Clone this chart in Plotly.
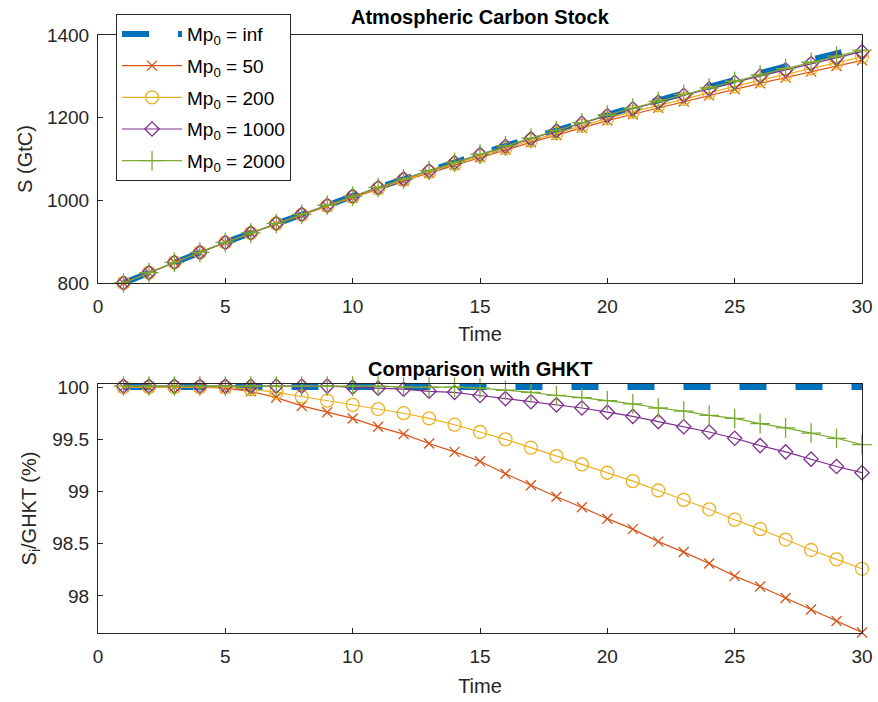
import plotly.graph_objects as go

# ---------------- data ----------------
time = list(range(1, 31))

# GHKT reference stock (Mp0 = inf), GtC
s_inf = [800, 825, 850, 874, 898, 921, 944, 966, 988, 1010,
         1031, 1052, 1072, 1092, 1112, 1132, 1151, 1170, 1189, 1208,
         1225, 1242, 1259, 1275.5, 1292, 1308, 1324, 1340, 1355.5, 1371]

# ratio S_i / GHKT (%)
r_inf = [100.0] * 30
r_50 = [100.0, 100.0, 100.0, 100.0, 99.99, 99.96, 99.90, 99.82, 99.76, 99.70,
        99.62, 99.55, 99.46, 99.38, 99.29, 99.17, 99.06, 98.95, 98.85, 98.74,
        98.64, 98.52, 98.42, 98.31, 98.19, 98.09, 97.98, 97.87, 97.76, 97.65]
r_200 = [100.0, 100.0, 100.0, 100.0, 100.0, 99.98, 99.95, 99.91, 99.87, 99.83,
         99.79, 99.75, 99.70, 99.64, 99.57, 99.50, 99.42, 99.34, 99.26, 99.18,
         99.10, 99.01, 98.92, 98.83, 98.73, 98.64, 98.54, 98.44, 98.35, 98.26]
r_1000 = [100.01, 100.01, 100.01, 100.01, 100.01, 100.01, 100.01, 100.01, 100.01, 100.0,
          99.99, 99.98, 99.96, 99.95, 99.92, 99.89, 99.86, 99.83, 99.80, 99.76,
          99.72, 99.67, 99.62, 99.57, 99.51, 99.44, 99.38, 99.31, 99.24, 99.18]
r_2000 = [100.01, 100.01, 100.01, 100.01, 100.01, 100.01, 100.01, 100.01, 100.01, 100.01,
          100.01, 100.0, 100.0, 100.0, 99.99, 99.97, 99.95, 99.92, 99.90, 99.87,
          99.84, 99.80, 99.77, 99.73, 99.70, 99.65, 99.61, 99.56, 99.51, 99.45]

labels = ["Mp<sub>0</sub> = inf", "Mp<sub>0</sub> = 50", "Mp<sub>0</sub> = 200",
          "Mp<sub>0</sub> = 1000", "Mp<sub>0</sub> = 2000"]
ratios = [r_inf, r_50, r_200, r_1000, r_2000]

x_ticks = [0, 5, 10, 15, 20, 25, 30]
y1_ticks = [800, 1000, 1200, 1400]
y2_ticks = [98, 98.5, 99, 99.5, 100]
y2_ticktext = ["98", "98.5", "99", "99.5", "100"]

# ---------------- style ----------------
colors = ["#0072BD", "#D95319", "#EDB120", "#7E2F8E", "#77AC30"]
symbols = [None, "x-thin-open", "circle-open", "diamond-open", "cross-thin-open"]
msizes = [0, 10, 13, 11, 14]
FONT = "Liberation Sans, Arial, sans-serif"
AX = "#262626"

fig = go.Figure()

for i, (lab, r) in enumerate(zip(labels, ratios)):
    s_vals = [s * v / 100.0 for s, v in zip(s_inf, r)]
    if i == 0:
        line = dict(color=colors[0], width=6, dash="27px,29px")
        mode = "lines"
        marker = None
    else:
        line = dict(color=colors[i], width=1.2)
        mode = "lines+markers"
        marker = dict(symbol=symbols[i], size=msizes[i],
                      line=dict(color=colors[i], width=1.3), color=colors[i])
    fig.add_trace(go.Scatter(x=time, y=s_vals, mode=mode, name=lab, line=line,
                             marker=marker, xaxis="x", yaxis="y",
                             legendgroup=f"g{i}",
                             cliponaxis=False, showlegend=True))
    fig.add_trace(go.Scatter(x=time, y=r, mode=mode, name=lab, line=line,
                             marker=marker, xaxis="x2", yaxis="y2",
                             legendgroup=f"g{i}",
                             cliponaxis=False, showlegend=False))

axis_common = dict(showline=True, linecolor=AX, linewidth=1, mirror=True,
                   ticks="inside", ticklen=5, tickcolor=AX, tickwidth=1,
                   showgrid=False, zeroline=False, automargin=False,
                   tickfont=dict(family=FONT, size=19, color=AX))
TF = dict(family=FONT, size=20, color=AX)

top_dom = [0.5853, 1.0]
bot_dom = [0.0, 0.4164]

fig.update_layout(
    width=878, height=702,
    margin=dict(l=98, r=16, t=35, b=69, autoexpand=False),
    paper_bgcolor="white", plot_bgcolor="white",
    font=dict(family=FONT, color=AX),
    xaxis=dict(domain=[0, 1], anchor="y", range=[0, 30], tickvals=x_ticks,
               ticklabelstandoff=6,
               title=dict(text="Time", font=TF, standoff=11),
               **axis_common),
    yaxis=dict(domain=top_dom, anchor="x", range=[800, 1400], tickvals=y1_ticks,
               ticklabelstandoff=4,
               title=dict(text="S (GtC)", font=TF, standoff=8),
               **axis_common),
    xaxis2=dict(domain=[0, 1], anchor="y2", range=[0, 30], tickvals=x_ticks,
                ticklabelstandoff=6,
                title=dict(text="Time", font=TF, standoff=13),
                **axis_common),
    yaxis2=dict(domain=bot_dom, anchor="x2", range=[97.645, 100.03], tickvals=y2_ticks,
                ticktext=y2_ticktext, ticklabelstandoff=4,
                title=dict(text="S<sub>i</sub>/GHKT (%)", font=TF, standoff=10),
                **axis_common),
    legend=dict(x=0.0236, y=1.035, xanchor="left", yanchor="top",
                bgcolor="white", bordercolor="#262626", borderwidth=1,
                font=dict(family=FONT, size=19, color="black"),
                itemwidth=60, tracegroupgap=4),
    annotations=[
        dict(text="<b>Atmospheric Carbon Stock</b>", x=0.5, y=1.030, xref="paper", yref="paper",
             xanchor="center", yanchor="middle", showarrow=False,
             font=dict(family=FONT, size=20, color="black")),
        dict(text="<b>Comparison with GHKT</b>", x=0.5, y=0.4415, xref="paper", yref="paper",
             xanchor="center", yanchor="middle", showarrow=False,
             font=dict(family=FONT, size=20, color="black")),
    ],
)

fig.write_html("out.html")
